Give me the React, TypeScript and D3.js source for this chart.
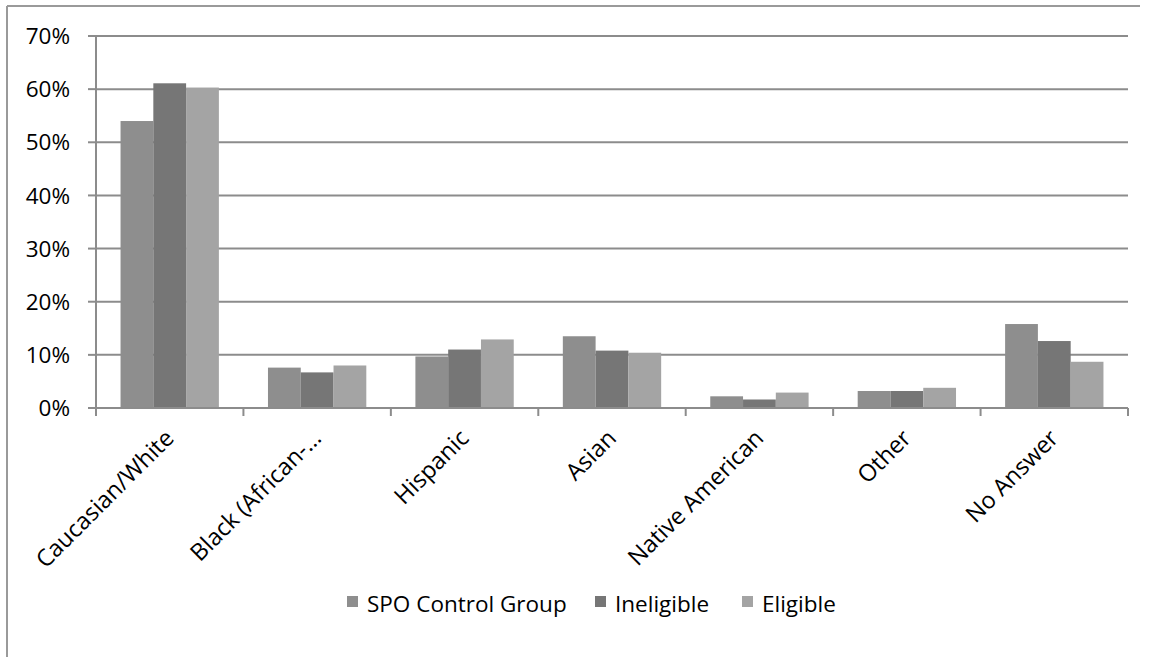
import React from "react";
import * as d3 from "d3";

const categories = ["Caucasian/White", "Black (African-…", "Hispanic", "Asian", "Native American", "Other", "No Answer"];
const seriesNames = ["SPO Control Group", "Ineligible", "Eligible"];
const spoControl = [54.0, 7.6, 9.7, 13.5, 2.2, 3.2, 15.8];
const ineligible = [61.1, 6.7, 11.0, 10.8, 1.6, 3.2, 12.6];
const eligible = [60.3, 8.0, 12.9, 10.4, 2.9, 3.8, 8.7];
const yTicks = [0, 10, 20, 30, 40, 50, 60, 70];
const seriesColors = ["#8e8e8e", "#767676", "#a4a4a4"];

const W = 1149, H = 657;
const plot = { left: 96, right: 1128, top: 36, bottom: 408 };
const FONT = "'Open Sans', sans-serif";

export default function App() {
  const series = [spoControl, ineligible, eligible];
  const x = d3.scaleBand<string>().domain(categories).range([plot.left, plot.right]).paddingInner(0.333).paddingOuter(0.1665);
  const xc = d3.scaleBand<string>().domain(categories).range([plot.left, plot.right]);
  const xs = d3.scaleBand<number>().domain([0, 1, 2]).range([0, x.bandwidth()]);
  const y = d3.scaleLinear().domain([0, 70]).range([plot.bottom, plot.top]);
  const grid = "#8c8c8c";
  const legendX = [347, 595, 742];

  return (
    <svg width={W} height={H} style={{ position: "absolute", left: 0, top: 0, background: "#fff" }} fontFamily={FONT}>
      <line x1={7} y1={6} x2={1140} y2={6} stroke="#9a9a9a" strokeWidth={2} />
      <line x1={7} y1={6} x2={7} y2={H} stroke="#9a9a9a" strokeWidth={2} />
      {yTicks.filter((t) => t > 0).map((t) => (
        <line key={"g" + t} x1={plot.left} x2={plot.right} y1={y(t)} y2={y(t)} stroke={grid} strokeWidth={2} />
      ))}
      {series.map((vals, si) =>
        categories.map((c, ci) => (
          <rect key={si + "-" + ci} x={(x(c) as number) + (xs(si) as number)} width={xs.bandwidth()}
            y={y(vals[ci])} height={y(0) - y(vals[ci])} fill={seriesColors[si]} />
        ))
      )}
      <line x1={plot.left} x2={plot.left} y1={plot.top} y2={plot.bottom} stroke={grid} strokeWidth={2} />
      <line x1={plot.left - 1} x2={plot.right} y1={plot.bottom} y2={plot.bottom} stroke={grid} strokeWidth={2} />
      {yTicks.map((t) => (
        <g key={"t" + t}>
          <line x1={plot.left - 8} x2={plot.left} y1={y(t)} y2={y(t)} stroke={grid} strokeWidth={2} />
          <text x={70} y={y(t)} dy="0.36em" textAnchor="end" fontSize={22.5} fill="#000">{t + "%"}</text>
        </g>
      ))}
      {categories.map((c, i) => (
        <line key={"xt" + i} x1={xc(c) as number} x2={xc(c) as number} y1={plot.bottom} y2={plot.bottom + 8} stroke={grid} strokeWidth={2} />
      ))}
      <line x1={plot.right} x2={plot.right} y1={plot.bottom} y2={plot.bottom + 8} stroke={grid} strokeWidth={2} />
      {categories.map((c, i) => {
        const cx = (xc(c) as number) + xc.bandwidth() / 2;
        return (
          <text key={"c" + i} transform={`translate(${cx - 6},${plot.bottom + 20}) rotate(-45)`} textAnchor="end" fontSize={23.5} dy="0.7em" fill="#000">{c}</text>
        );
      })}
      {seriesNames.map((n, i) => (
        <g key={"l" + i}>
          <rect x={legendX[i]} y={596} width={11} height={11} fill={seriesColors[i]} />
          <text x={legendX[i] + 20} y={612} fontSize={22.5} fill="#000">{n}</text>
        </g>
      ))}
    </svg>
  );
}
